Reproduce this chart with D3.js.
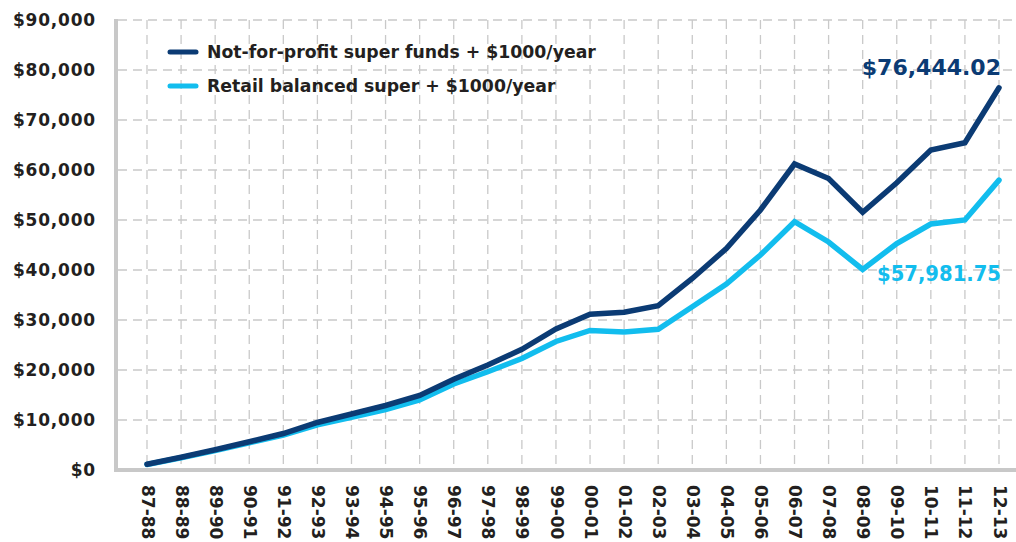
<!DOCTYPE html>
<html>
<head>
<meta charset="utf-8">
<script src="https://cdn.jsdelivr.net/npm/d3@7"></script>
<style>
  body { margin: 0; background: #fff; }
  svg text { font-family: "DejaVu Sans", sans-serif; font-weight: bold; }
</style>
</head>
<body>
<div id="chart"></div>
<script>
// ---- data ----
var years = ["87-88","88-89","89-90","90-91","91-92","92-93","93-94","94-95","95-96","96-97",
             "97-98","98-99","99-00","00-01","01-02","02-03","03-04","04-05","05-06","06-07",
             "07-08","08-09","09-10","10-11","11-12","12-13"];
var notForProfit = [1150, 2550, 4050, 5650, 7300, 9500, 11200, 12900, 14900, 18150,
                    21000, 24150, 28200, 31150, 31550, 32850, 38300, 44300, 52000, 61200,
                    58300, 51550, 57450, 64000, 65450, 76444.02];
var retail = [1100, 2450, 3900, 5450, 7000, 9050, 10550, 12100, 14000, 17200,
              19650, 22300, 25700, 27900, 27600, 28150, 32650, 37200, 43000, 49650,
              45600, 40100, 45300, 49200, 50000, 57981.75];
var yTicks = [0, 10000, 20000, 30000, 40000, 50000, 60000, 70000, 80000, 90000];
var seriesNames = ["Not-for-profit super funds + $1000/year", "Retail balanced super + $1000/year"];
var seriesColors = ["#0b3b74", "#12bdee"];
var endLabels = ["$76,444.02", "$57,981.75"];

// ---- canvas ----
var W = 1016, H = 542;
var plotLeft = 116, plotRight = 1012, plotTop = 20, plotBottom = 470;

var svg = d3.select("#chart").append("svg")
  .attr("width", W).attr("height", H);

var x = d3.scalePoint().domain(years).range([147, 999]);
var y = d3.scaleLinear().domain([0, 90000]).range([plotBottom, plotTop]);

// grid lines
svg.append("g").selectAll("line.h")
  .data(yTicks.slice(1))
  .enter().append("line")
    .attr("x1", plotLeft + 2).attr("x2", plotRight)
    .attr("y1", function(d){ return y(d); }).attr("y2", function(d){ return y(d); })
    .attr("stroke", "#c9c9c9").attr("stroke-width", 1.3)
    .attr("stroke-dasharray", "9,6");
svg.append("g").selectAll("line.v")
  .data(years)
  .enter().append("line")
    .attr("x1", function(d){ return x(d); }).attr("x2", function(d){ return x(d); })
    .attr("y1", plotTop).attr("y2", plotBottom - 2)
    .attr("stroke", "#c9c9c9").attr("stroke-width", 1.3)
    .attr("stroke-dasharray", "9,6");

// axes lines
svg.append("line")
  .attr("x1", plotLeft).attr("x2", plotLeft)
  .attr("y1", plotTop - 1).attr("y2", plotBottom + 2)
  .attr("stroke", "#c8c8c8").attr("stroke-width", 4);
svg.append("line")
  .attr("x1", plotLeft - 2).attr("x2", W)
  .attr("y1", plotBottom).attr("y2", plotBottom)
  .attr("stroke", "#c8c8c8").attr("stroke-width", 4);

// y axis labels
var yAxis = svg.append("g")
  .attr("transform", "translate(" + 96 + ",0)")
  .call(d3.axisLeft(y).tickValues(yTicks).tickFormat(d3.format("$,")).tickSize(0).tickPadding(0));
yAxis.select(".domain").remove();
yAxis.selectAll("text")
  .attr("fill", "#231f20").style("font-size", "17px")
  .style("letter-spacing", "0.8px").attr("dy", "0.35em");

// x axis labels
var xAxis = svg.append("g")
  .attr("transform", "translate(0," + 485 + ")")
  .call(d3.axisBottom(x).tickSize(0).tickPadding(0));
xAxis.select(".domain").remove();
xAxis.selectAll("text")
  .attr("fill", "#231f20").style("font-size", "17px")
  .attr("text-anchor", "start")
  .attr("transform", "rotate(90)")
  .attr("x", 0).attr("y", 0).attr("dy", "0.35em");

// lines
var line = d3.line()
  .x(function(d, i){ return x(years[i]); })
  .y(function(d){ return y(d); });

[retail, notForProfit].forEach(function(s, k) {
  var c = k === 0 ? seriesColors[1] : seriesColors[0];
  svg.append("path")
    .datum(s)
    .attr("d", line)
    .attr("fill", "none")
    .attr("stroke", c)
    .attr("stroke-width", 5.5)
    .attr("stroke-linecap", "round")
    .attr("stroke-linejoin", "miter");
});

// end labels
svg.append("text")
  .attr("x", 1001).attr("y", 75)
  .attr("text-anchor", "end")
  .attr("fill", seriesColors[0])
  .style("font-size", "22px")
  .text(endLabels[0]);
svg.append("text")
  .attr("x", 1001).attr("y", 281)
  .attr("text-anchor", "end")
  .attr("fill", seriesColors[1])
  .style("font-size", "22px")
  .attr("textLength", 124).attr("lengthAdjust", "spacingAndGlyphs")
  .text(endLabels[1]);

// legend
var legend = svg.append("g");
seriesNames.forEach(function(name, i) {
  var ly = 52 + i * 34;
  legend.append("line")
    .attr("x1", 170).attr("x2", 196)
    .attr("y1", ly).attr("y2", ly)
    .attr("stroke", seriesColors[i]).attr("stroke-width", 5)
    .attr("stroke-linecap", "round");
  legend.append("text")
    .attr("x", 207).attr("y", ly).attr("dy", "0.35em")
    .attr("fill", "#231f20")
    .style("font-size", "17.3px")
    .text(name);
});
</script>
</body>
</html>
